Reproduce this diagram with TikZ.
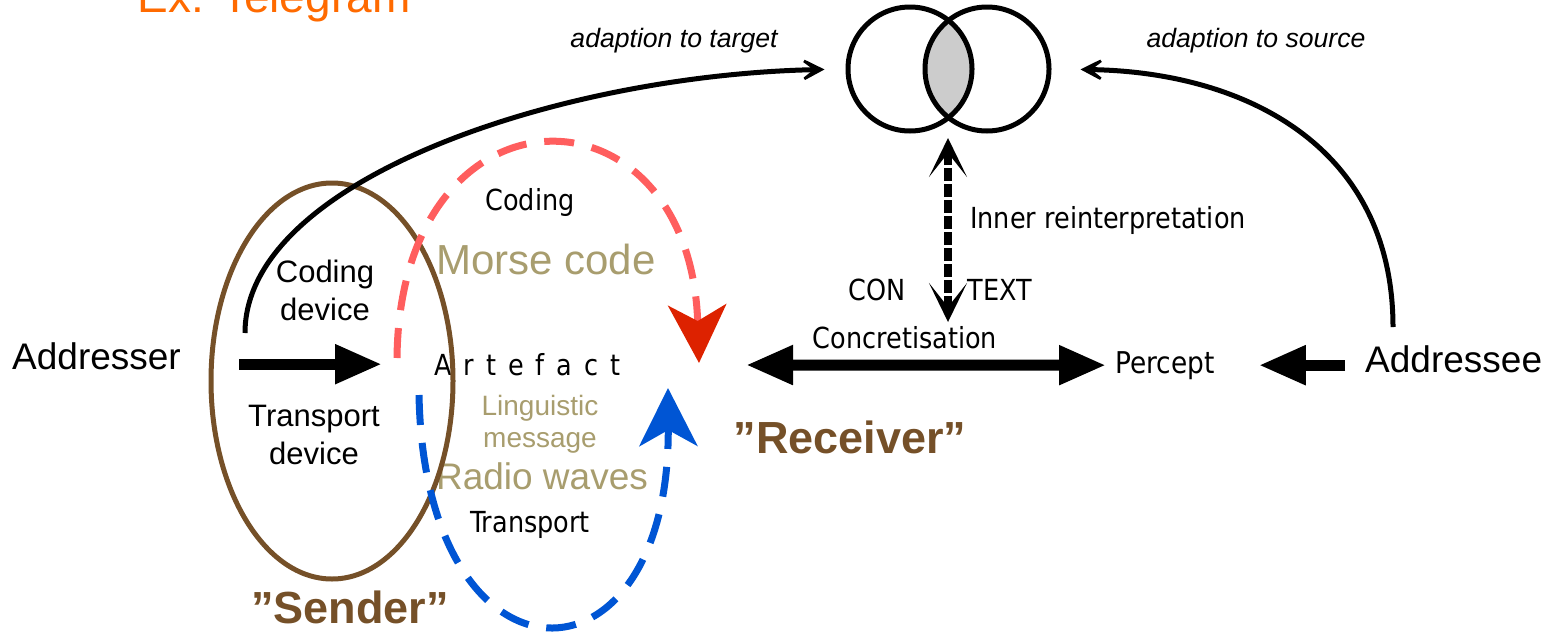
\documentclass[tikz,border=0pt]{standalone}
\usepackage{fontspec}
\setmainfont{Liberation Sans}
\newfontfamily\lblfont{DejaVu Sans}[FakeStretch=0.88]
\usetikzlibrary{arrows.meta}

\definecolor{telegram}{RGB}{255,106,0}
\definecolor{senderbrown}{RGB}{117,80,40}
\definecolor{khaki}{RGB}{168,157,110}
\definecolor{codingred}{RGB}{255,94,94}
\definecolor{headred}{RGB}{221,34,0}
\definecolor{transblue}{RGB}{0,85,212}
\definecolor{lensgray}{RGB}{204,204,204}

\newcommand{\fsz}[2]{\fontsize{#1}{#2}\selectfont}

\tikzset{
    txt/.style={inner sep=0pt, anchor=base},
    lbl/.style={txt, font=\lblfont\fsz{29}{35}},
    fat/.style={line width=11pt},
    adapt/.style={line width=5pt, -{Stealth[length=33pt,width=34pt,inset=22pt]}},
    loopdash/.style={line width=7pt, dash pattern=on 30pt off 18pt},
    innerarrow/.style={line width=8pt, dash pattern=on 13pt off 3pt,
        {Stealth[length=39pt,width=38pt,inset=24pt]}-{Stealth[length=39pt,width=38pt,inset=24pt]}},
    horizon/.style={circle, draw, line width=5pt, minimum size=124pt, inner sep=0pt},
}

\begin{document}
\begin{tikzpicture}[x=1pt, y=-1pt, >={Triangle[length=47pt,width=37pt]}]
                \useasboundingbox (0,0) rectangle (1547,635);
                \clip (0,0) rectangle (1547,635);

                \node[txt, text=telegram, font=\fsz{46}{55}] (title) at (274,12) {Ex: Telegram};

                % the two horizons and their overlap
                \begin{scope}
                    \clip (910,69) circle (62);
                    \fill[lensgray] (987,69) circle (62);
                \end{scope}
                \node[horizon] (lefthorizon) at (910,69) {};
                \node[horizon] (righthorizon) at (987,69) {};

                \node[txt, font=\itshape\fsz{26.6}{32}] (adtarget) at (674,47) {adaption to target};
                \node[txt, font=\itshape\fsz{26.6}{32}] (adsource) at (1256,47) {adaption to source};

                \node[txt, anchor=base west, font=\fsz{37}{44}] (addresser) at (12,369) {Addresser};
                \node[txt, anchor=base west, font=\fsz{37}{44}] (addressee) at (1365,372) {Addressee};

                \node[inner sep=0pt, align=center, font=\fsz{31}{38}] (codingdev) at (325,290) {Coding\\device};
                \node[inner sep=0pt, align=center, font=\fsz{31}{38}] (transdev) at (314,435) {Transport\\device};

                \node[txt, text=khaki, font=\fsz{42}{50}] (morse) at (546,274) {Morse code};
                \node[inner sep=0pt, align=center, text=khaki, font=\fsz{28}{32}] (lingmsg) at (540,424) {Linguistic\\message};
                \node[txt, text=khaki, font=\fsz{37}{44}] (radio) at (542,489) {Radio waves};

                \node[lbl] (coding) at (530,210) {Coding};
                \node[lbl, anchor=base west] (artefact) at (434,375) {\spaceskip=12pt A r t e f a c t};
                \node[lbl] (transport) at (530,532) {Transport};
                \node[lbl, anchor=base west] (inner) at (970,228) {Inner reinterpretation};
                \node[lbl] (con) at (877,300) {CON};
                \node[lbl] (text) at (1000,300) {TEXT};
                \node[lbl] (conc) at (905,348) {Concretisation};
                \node[lbl, anchor=base west, font=\lblfont\fsz{30}{36}] (percept) at (1115,373) {Percept};

                \node[txt, text=senderbrown, font=\bfseries\fsz{45}{54}] (sender) at (350,623) {”Sender”};
                \node[txt, text=senderbrown, font=\bfseries\fsz{45}{54}] (receiver) at (850,453) {”Receiver”};

                \draw[senderbrown, line width=5pt] (332,381) ellipse (121 and 198);

                % coding and transport loops
                \coordinate (codestart) at (397,358);
                \coordinate (codeend) at (699,363);
                \coordinate (transstart) at (419,395);
                \coordinate (transend) at (668,388);
                \draw[codingred, loopdash,
                    -{Stealth[length=58pt,width=58pt,inset=16pt,color=headred]}]
                    (codestart) .. controls (400,75) and (690,75) .. (codeend);
                \draw[transblue, loopdash,
                    -{Stealth[length=58pt,width=58pt,inset=16pt]}]
                    (transstart) .. controls (425,700) and (670,700) .. (transend);

                % adaption curves
                \coordinate (sendfoot) at (245,333);
                \coordinate (recvfoot) at (1393,327);
                \draw[adapt, shorten >=21pt] (sendfoot) .. controls (245,180) and (560,75) .. (lefthorizon.west);
                \draw[adapt, shorten >=29pt] (recvfoot) .. controls (1393,150) and (1250,72) .. (righthorizon.east);

                \coordinate (lensfoot) at (948,138);
                \coordinate (confoot) at (948,322);
                \draw[innerarrow] (confoot) -- (lensfoot);

                \coordinate (recv) at (746,365);
                \draw[fat, ->, shorten <=58pt, shorten >=52pt] (addresser.east |- artefact.west) -- (artefact.west);
                \draw[fat, <->, shorten >=9pt] (recv) -- (percept.west);
                \draw[fat, ->, shorten <=20pt, shorten >=44pt] (addressee.west |- percept.east) -- (percept.east);
            \end{tikzpicture}
\end{document}
